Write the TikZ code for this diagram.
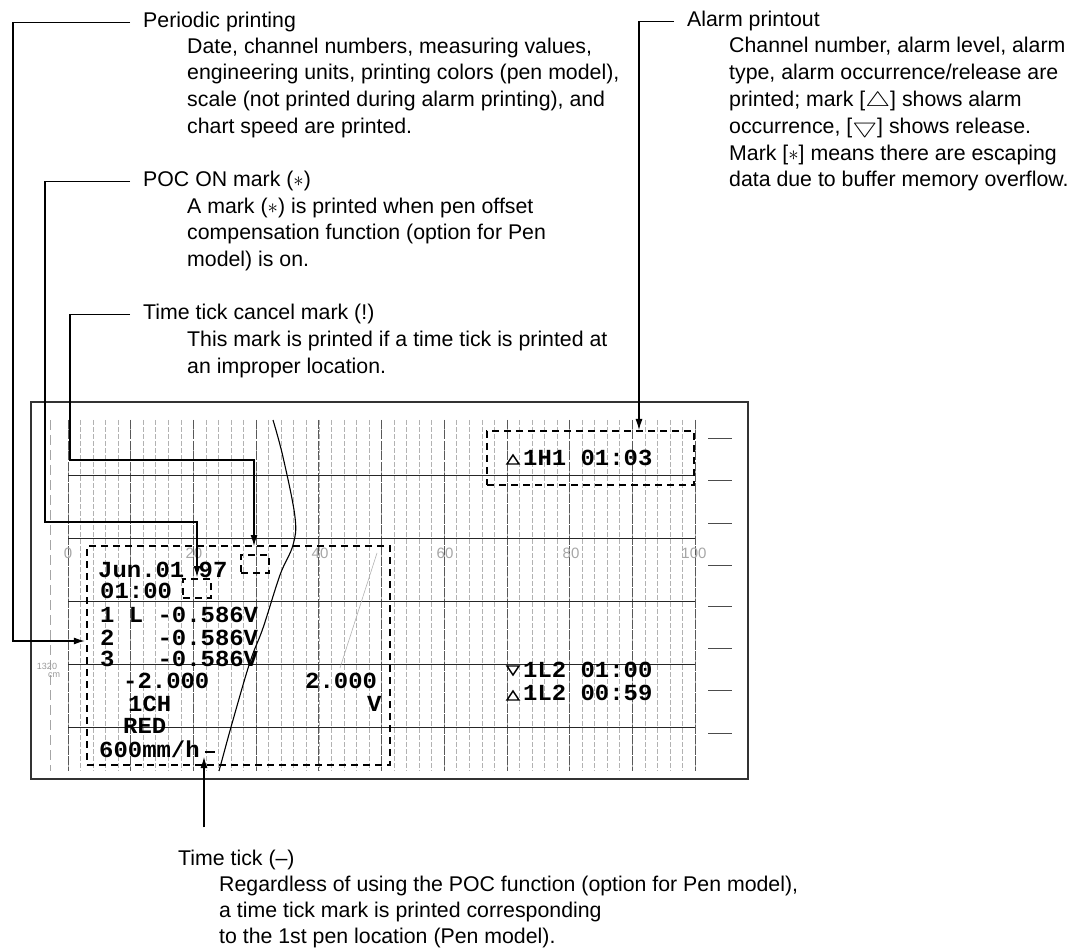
\documentclass[tikz,border=0pt]{standalone}
\usepackage{fontspec}
\setmainfont{Liberation Sans}
\newfontfamily\dotf[FakeStretch=1.04]{Liberation Mono}
\usetikzlibrary{arrows.meta}
\begin{document}
\begin{tikzpicture}[x=1pt,y=-1pt,
  lbl/.style={anchor=base west,inner sep=0pt,font=\fontsize{21.3}{27}\selectfont},
  conn/.style={line width=1.1pt},
  arr/.style={-{Latex[length=11pt,width=7pt]}},
  dbox/.style={draw,line width=2.4pt,dash pattern=on 7pt off 5pt,inner sep=0pt},
  ptxt/.style={anchor=base west,inner sep=0pt,font=\dotf\bfseries\fontsize{23}{23}\selectfont},
  scl/.style={font=\fontsize{15}{15}\selectfont,text=gray!70,inner sep=0pt},
  gridminor/.style={gray!60,line width=0.6pt,dash pattern=on 5pt off 2pt},
  gridmajor/.style={black!65,line width=0.8pt,dash pattern=on 9pt off 1.5pt},
  tri/.style={line width=1.4pt,line join=miter}
]
\useasboundingbox (0,0) rectangle (1082,949);

% ---------- chart paper ----------
\foreach \k [evaluate=\k as \xx using 68+\k*12.54] in {0,...,50}
  \draw[gridminor] (\xx,420) -- (\xx,771);
\foreach \k [evaluate=\k as \xx using 68+\k*12.54] in {0,5,...,50}
  \draw[gridmajor] (\xx,420) -- (\xx,771);
\foreach \yy in {475,538,601,664,727}
  \draw[black!85,line width=0.8pt] (68,\yy) -- (695,\yy);
\foreach \yy in {438,480,523,565,606,648,690,733}
  \draw[black!70,line width=0.8pt] (708,\yy) -- (732,\yy);
\draw[gray!70,line width=0.7pt,dash pattern=on 10pt off 5pt] (50,420) -- (50,771);
\draw[line width=1.3pt,black!80] (31,402) rectangle (748,779);

\node[scl] (s0) at (68,553) {0};
\node[scl] (s20) at (194,553) {20};
\node[scl] (s40) at (320,553) {40};
\node[scl] (s60) at (445,553) {60};
\node[scl] (s80) at (571,553) {80};
\node[scl] (s100) at (694,553) {100};
\node[font=\fontsize{9}{9}\selectfont,text=gray!80,inner sep=0pt] (len) at (47,666) {1320};
\node[font=\fontsize{9}{9}\selectfont,text=gray!80,inner sep=0pt] (lenu) at (54,675) {cm};

% pen traces
\draw[line width=1.1pt] plot[smooth,tension=0.6] coordinates {(273,420) (283,457) (295,517) (293,545) (280,575) (263,628) (250,662) (233,720) (222,760) (219,771)};
\draw[gray!60,line width=0.6pt] (377,553) -- (340,668);

% dashed boxes
\node[dbox,minimum width=303pt,minimum height=219pt] (pbox) at (238.5,655.5) {};
\node[dbox,minimum width=28pt,minimum height=18pt] (tcbox) at (255,564) {};
\node[dbox,minimum width=28pt,minimum height=19pt] (pocbox) at (197,588.5) {};
\node[dbox,minimum width=207pt,minimum height=54pt] (abox) at (590.5,458) {};

% printed chart text
\node[ptxt] (jun) at (98,577) {Jun.01\ 97};
\node[ptxt] (tm) at (100,598) {01:00};
\node[ptxt] (r1) at (100,622) {1\ L\ -0.586V};
\node[ptxt] (r2) at (100,645) {2\ \ \ -0.586V};
\node[ptxt] (r3) at (100,666) {3\ \ \ -0.586V};
\node[ptxt] (smin) at (123,688) {-2.000};
\node[ptxt] (smax) at (305,688) {2.000};
\node[ptxt] (ch) at (128,711) {1CH};
\node[ptxt] (unit) at (367,711) {V};
\node[ptxt] (col) at (123,733) {RED};
\node[ptxt] (spd) at (99,757) {600mm/h};
\draw[line width=2pt] (spd.base east) ++(5,-5) coordinate (tt0) -- ++(10,0) coordinate (tt1);

\node[ptxt] (a1) at (523,465) {1H1\ 01:03};
\node[ptxt] (a2) at (523,677) {1L2\ 01:00};
\node[ptxt] (a3) at (523,700) {1L2\ 00:59};
\draw[tri] (507,464) -- (519,464) -- (513,455) -- cycle;
\draw[tri] (507,666) -- (519,666) -- (513,675) -- cycle;
\draw[tri] (507,700) -- (519,700) -- (513,691) -- cycle;

% ---------- labels ----------
\node[lbl] (plab) at (143,28) {Periodic printing};
\node[lbl] (pd1) at (187,54) {Date, channel numbers, measuring values,};
\node[lbl] (pd2) at (187,80) {engineering units, printing colors (pen model),};
\node[lbl] (pd3) at (187,107) {scale (not printed during alarm printing), and};
\node[lbl] (pd4) at (187,134) {chart speed are printed.};

\node[lbl] (poclab) at (143,187) {POC ON mark ($\ast$)};
\node[lbl] (pocd1) at (187,214) {A mark ($\ast$) is printed when pen offset};
\node[lbl] (pocd2) at (187,240) {compensation function (option for Pen};
\node[lbl] (pocd3) at (187,267) {model) is on.};

\node[lbl] (ttclab) at (143,320) {Time tick cancel mark (!)};
\node[lbl] (ttcd1) at (187,347) {This mark is printed if a time tick is printed at};
\node[lbl] (ttcd2) at (187,374) {an improper location.};

\node[lbl] (alab) at (687,27) {Alarm printout};
\node[lbl] (ad1) at (729,53) {Channel number, alarm level, alarm};
\node[lbl] (ad2) at (729,80) {type, alarm occurrence/release are};
\node[lbl] (ad3) at (729,107) {printed; mark [\scalebox{1.35}[1]{$\bigtriangleup$}] shows alarm};
\node[lbl] (ad4) at (729,134) {occurrence, [\scalebox{1.35}[1]{$\bigtriangledown$}] shows release.};
\node[lbl] (ad5) at (729,161) {Mark [$\ast$] means there are escaping};
\node[lbl] (ad6) at (729,187) {data due to buffer memory overflow.};

\node[lbl] (ttlab) at (178,865) {Time tick (–)};
\node[lbl] (ttd1) at (219,891) {Regardless of using the POC function (option for Pen model),};
\node[lbl] (ttd2) at (219,917) {a time tick mark is printed corresponding};
\node[lbl] (ttd3) at (219,943) {to the 1st pen location (Pen model).};

% ---------- connectors ----------
\coordinate (pin) at (13,641);
\coordinate (pocmk) at (197,577);
\coordinate (ttcmk) at (254,546);
\coordinate (amk) at (639,430);
\coordinate (ttmk) at (204,757);

\draw[conn,arr] ([xshift=-13pt]plab.west) -| (pin) -- ([xshift=-1pt]pbox.west |- pin);
\draw[conn,arr] ([xshift=-13pt]poclab.west) -| (45,522) -| (pocmk);
\draw[conn,arr] ([xshift=-13pt]ttclab.west) -| (70,460) -| (ttcmk);
\draw[conn,arr] ([xshift=-13pt]alab.west) -| (amk);
\draw[conn,arr] ([yshift=22pt]ttlab.north -| ttmk) -- (ttmk);
\end{tikzpicture}
\end{document}
